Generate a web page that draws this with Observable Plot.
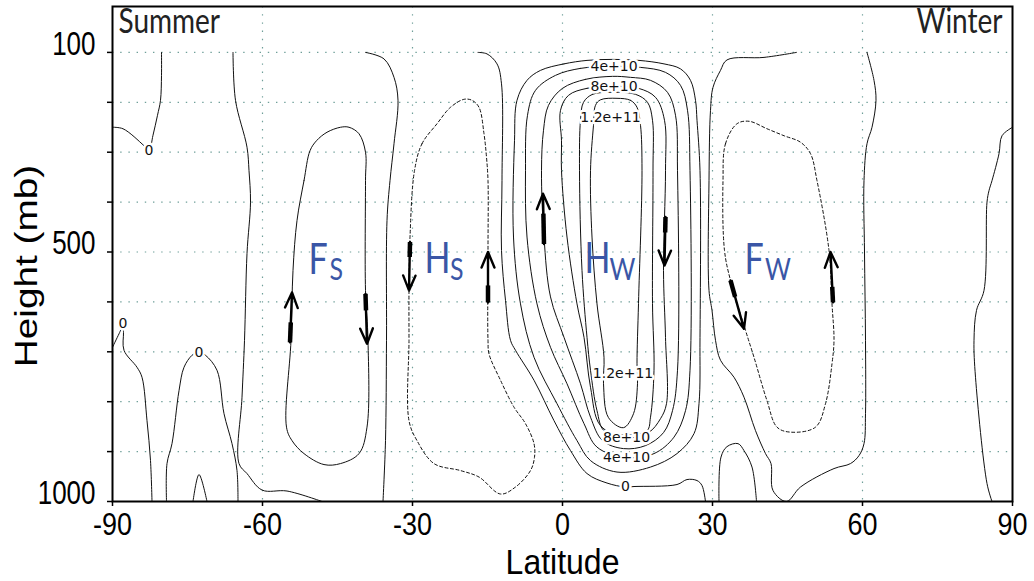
<!DOCTYPE html>
<html><head><meta charset="utf-8">
<script src="https://cdn.jsdelivr.net/npm/d3@7"></script>
<script src="https://cdn.jsdelivr.net/npm/@observablehq/plot@0.6"></script>
<style>body{margin:0;background:#fff}</style>
</head><body><div id="chart"></div>
<script>
// ---- axes ----
const latTicks = [-90, -60, -30, 0, 30, 60, 90];
const latGrid = [-60, -30, 0, 30, 60];
const pressureTicks = [100, 200, 300, 400, 500, 600, 700, 800, 900, 1000];
const pressureGrid = [100, 200, 300, 400, 500, 600, 700, 800, 900];
const pressureLabels = [100, 500, 1000];

// ---- contour lines [lat, pressure] ----
// open zero lines
const zeroA = [[-90,250],[-87.9,253],[-83.7,287],[-82.7,297],[-81.9,266],[-81,226],[-80.4,196],[-80.2,146],[-80.2,100]];
const zeroB = [[-65.9,100],[-65.4,196],[-63.1,290],[-62.7,337],[-62.4,400],[-63.1,503],[-63.6,677],[-64.1,791],[-64.7,924],[-63.1,944],[-60.1,977],[-55.1,979],[-48.1,1000]];
const zeroC = [[-39.4,100],[-35.7,113],[-33.7,150],[-32.9,196],[-33.7,283],[-34.5,357],[-35.1,437],[-35.2,677],[-35.4,878],[-35.9,1000]];
const zeroE = [[-90,691],[-88.7,664],[-87.9,648],[-87.8,661],[-87.7,697],[-85.1,731],[-84.1,751],[-83.1,838],[-82.4,918],[-82.1,1000]];
const zeroF = [[-79.2,1000],[-79.1,924],[-78.1,884],[-76.7,778],[-75.7,731],[-74.1,707],[-72.8,700],[-71.4,707],[-69.1,737],[-67.7,824],[-66.1,884],[-65.1,938],[-64.9,1000]];
const zeroG = [[-73.9,1000],[-72.7,946],[-71.1,1000]];
const zeroI = [[-16.9,100],[-15.1,103],[-13.1,123],[-12.2,163],[-12.1,357],[-12.2,497],[-11.4,597],[-10.4,677],[-9.4,697],[-5.7,757],[-1.7,838],[1.6,898],[4.9,944],[8.9,963],[12.6,971],[14.3,970],[22.9,966],[24.9,956],[26.9,958],[27.9,968],[28.6,1000]];
const zeroJ = [[46.8,100],[40.3,110],[32.9,115],[31.6,136],[30.1,170],[29.6,216],[29.3,357],[29.3,577],[29.9,617],[30.6,677],[31.6,717],[34.3,751],[36.3,791],[38.6,858],[40.6,904],[41.7,924],[42.1,978],[44.8,1000],[47.6,971],[54.3,934],[57.6,924],[59.3,908],[60.3,884],[60.6,824],[60.6,677],[60.4,500],[60.3,357],[60.9,283],[61.9,250],[62.7,196],[62.3,156],[60.9,100]];
const zeroK = [[31.3,1000],[31.7,911],[32.9,890],[35.1,884],[36.3,898],[37.9,931],[38.8,1000]];
const zeroM = [[90,250],[87.9,267],[87.3,303],[85.9,357],[85.3,377],[84.9,400],[84.3,577],[82.8,617],[82.3,677],[82.6,751],[84.9,964],[85.9,1000]];
// closed positive loops
const loopFs = [[-50.5,297],[-51.7,357],[-53.1,437],[-53.9,537],[-54.3,677],[-55.2,851],[-54.1,878],[-51.7,904],[-47.7,926],[-44.4,924],[-40.7,904],[-39.1,851],[-38.9,677],[-39.4,577],[-39.4,357],[-39.4,300],[-40.7,263],[-42.7,250],[-44.4,250],[-47.1,260],[-49.2,277]];
const hw2 = [[4.9,116],[0.3,123],[-4.4,136],[-7.1,156],[-9.1,196],[-9.6,277],[-9.8,470],[-8.4,604],[-5.7,711],[-1.1,804],[2.9,878],[5.6,918],[10.9,941],[17.6,931],[22.9,904],[26.3,864],[27.3,804],[27.5,671],[27.5,337],[26.9,236],[26.6,196],[25.6,156],[23.6,133],[20.3,123],[15.3,116],[10,114]];
const hw4 = [[9.6,128],[3.6,132],[-1.4,146],[-5.4,176],[-7,226],[-7.4,337],[-7.1,470],[-5.1,604],[-2.4,691],[0.9,764],[4.3,844],[6.9,891],[12.6,912],[18.3,904],[22.3,871],[24.6,818],[25.5,737],[25.5,337],[25,216],[23.6,166],[20.6,140],[15.6,130]];
const hw6 = [[10,148],[4.6,154],[0,172],[-2.8,206],[-3.8,256],[-4.2,337],[-3.7,470],[-2.4,590],[0.3,671],[3.6,764],[5.6,831],[8,878],[12.2,894],[16.6,888],[20.2,862],[22,818],[23,737],[23,337],[22.6,226],[21,180],[17.6,156],[13.6,150]];
const hw8 = [[10.2,168],[4.9,172],[1.2,186],[-0.4,216],[-0.2,277],[-0.2,337],[0.9,470],[2.9,604],[4.3,671],[5.6,771],[7.6,848],[12.8,872],[17.2,862],[19.6,834],[20.8,804],[20.6,671],[20.2,537],[20.6,337],[20.4,236],[18.6,190],[15.2,172]];
const hw10 = [[10,180],[6,184],[4.2,200],[3.6,236],[3.4,337],[3.9,537],[4.9,671],[5.6,737],[6.9,818],[8.3,858],[12.2,866],[16.9,858],[17.6,831],[18.3,737],[18,603],[18.1,337],[18,236],[17,200],[14.6,184]];
const hw12 = [[10.9,192],[13.6,196],[14.9,210],[15.6,246],[15.9,337],[15.2,603],[14.9,723],[15,764],[14.2,824],[12.2,852],[9.2,832],[8.2,764],[8.3,711],[6.9,604],[5.9,470],[5.6,337],[6.2,246],[6.6,206],[7.6,195]];
// closed negative loops (dashed)
const loopHs = [[-29.6,337],[-28.1,283],[-25.1,243],[-22.4,210],[-19.7,194],[-18.1,196],[-16.7,210],[-15.7,263],[-15.2,310],[-14.9,357],[-14.9,497],[-14.9,677],[-14.7,704],[-12.4,757],[-9.7,811],[-7.4,844],[-5.7,884],[-5.6,911],[-6.4,938],[-9.4,971],[-12.4,985],[-16.7,951],[-20.4,938],[-25.7,924],[-29.1,878],[-30.7,838],[-30.7,677],[-30.7,577],[-30.5,470]];
const loopFw = [[32.1,357],[32.6,283],[34.9,243],[37.3,238],[40.9,253],[44.3,267],[47.6,280],[49.6,303],[50.9,357],[53.3,497],[53.9,604],[54.3,677],[53.9,724],[52.6,804],[50.6,851],[45.6,861],[42.9,851],[40.9,798],[38.3,711],[36.6,657],[33.6,557],[32.4,497]];

const toRows = (obj) => Object.entries(obj).flatMap(([id, pts]) => pts.map(([lat, p]) => ({id, lat, p})));
const openRows = toRows({zeroA, zeroB, zeroC, zeroE, zeroF, zeroG, zeroI, zeroJ, zeroK, zeroM});
const closedRows = toRows({loopFs, hw2, hw4, hw6, hw8, hw10, hw12});
const dashedRows = toRows({loopHs, loopFw});

// ---- contour labels ----
const contourLabelText = ["0", "0", "0", "0", "4e+10", "8e+10", "1.2e+11", "1.2e+11", "8e+10", "4e+10"];
const contourLabelLat = [-82.7, -87.9, -72.7, 12.6, 10.3, 10.3, 9.6, 12.1, 12.8, 12.8];
const contourLabelP = [297, 644, 701, 970, 128, 168, 230, 744, 871, 912];
const contourLabels = contourLabelText.map((t, i) => ({t, lat: contourLabelLat[i], p: contourLabelP[i]}));

// ---- cell names ----
const cellMain = ["F", "H", "H", "F"];
const cellSub = ["S", "S", "W", "W"];
const cellMainLat = [-50.8, -27.6, 4.4, 36.4];
const cellMainP = [544, 542, 542, 545];
const cellSubLat = [-46.6, -22.5, 9.4, 40.5];
const cellSubP = [557, 556, 556, 556];
const cellsMain = cellMain.map((t, i) => ({t, lat: cellMainLat[i], p: cellMainP[i]}));
const cellsSub = cellSub.map((t, i) => ({t, lat: cellSubLat[i], p: cellSubP[i]}));

// ---- circulation arrows (tail -> head) ----
const arrowLat1 = [-54.5, -39.4, -30.5, -14.9, -3.7, 20.6, 33.6, 54.1];
const arrowP1 = [681, 584, 480, 601, 484, 430, 557, 601];
const arrowLat2 = [-54.1, -39.1, -30.7, -14.9, -3.9, 20.4, 36.3, 53.6];
const arrowP2 = [581, 684, 577, 500, 383, 527, 654, 500];
const arrows = arrowLat1.map((d, i) => ({x1: d, y1: arrowP1[i], x2: arrowLat2[i], y2: arrowP2[i]}));
const tailP2 = [641, 617, 510, 567, 423, 461, 590, 570];
const tails = arrows.map((a, i) => ({x1: a.x1, y1: a.y1, x2: a.x1 + (a.x2 - a.x1) * (tailP2[i] - a.y1) / (a.y2 - a.y1), y2: tailP2[i]}));

const seasons = [{t: "Summer", lat: -88.8, p: 62, anchor: "start"}, {t: "Winter", lat: 88, p: 61, anchor: "end"}];

const humanist = "Lato, 'Open Sans', sans-serif";
const gridStyle = {stroke: "#6f9f99", strokeWidth: 1.2, strokeDasharray: "1.4,6.8"};
const chart = Plot.plot({
  width: 1034, height: 581,
  marginLeft: 112, marginRight: 22, marginTop: 6, marginBottom: 80,
  style: {fontFamily: "'Liberation Sans', Arial, sans-serif", background: "white", color: "black"},
  x: {domain: [-90, 90], label: null},
  y: {domain: [8, 1000], reverse: true, label: null},
  marks: [
    Plot.ruleY(pressureGrid, gridStyle),
    Plot.ruleX(latGrid, gridStyle),
    Plot.line(openRows, {x: "lat", y: "p", z: "id", stroke: "#111", strokeWidth: 1, curve: "catmull-rom", clip: true}),
    Plot.line(closedRows, {x: "lat", y: "p", z: "id", stroke: "#111", strokeWidth: 1, curve: "catmull-rom-closed", clip: true}),
    Plot.line(dashedRows, {x: "lat", y: "p", z: "id", stroke: "#111", strokeWidth: 1, strokeDasharray: "3,2.5", curve: "catmull-rom-closed", clip: true}),
    Plot.text(contourLabels, {x: "lat", y: "p", text: "t", fontSize: 14, fontFamily: "'DejaVu Sans', sans-serif", fill: "#111", stroke: "white", strokeWidth: 5, className: "clabels"}),
    Plot.link(tails, {x1: "x1", y1: "y1", x2: "x2", y2: "y2", stroke: "black", strokeWidth: 4.5}),
    Plot.arrow(arrows, {x1: "x1", y1: "y1", x2: "x2", y2: "y2", stroke: "black", strokeWidth: 2.4, headLength: 11, headAngle: 45}),
    Plot.text(cellsMain, {x: "lat", y: "p", text: "t", fontSize: 34, fontFamily: humanist, fill: "#3a56a6", textAnchor: "start", lineAnchor: "bottom"}),
    Plot.text(cellsSub, {x: "lat", y: "p", text: "t", fontSize: 25, fontFamily: humanist, fill: "#3a56a6", textAnchor: "start", lineAnchor: "bottom"}),
    Plot.text(seasons, {x: "lat", y: "p", text: "t", textAnchor: "start", fontSize: 28, fontFamily: humanist, fill: "#222", lineAnchor: "bottom", filter: d => d.anchor === "start"}),
    Plot.text(seasons, {x: "lat", y: "p", text: "t", textAnchor: "end", fontSize: 28, fontFamily: humanist, fill: "#222", lineAnchor: "bottom", filter: d => d.anchor === "end"}),
    Plot.axisX({ticks: latTicks, tickSize: 5, tickPadding: 6, fontSize: 27, strokeWidth: 1.5, label: null, tickFormat: d => String(d)}),
    Plot.axisY({ticks: pressureTicks, tickSize: 5, strokeWidth: 1.5, label: null, tickFormat: () => ""}),
    Plot.text(pressureLabels, {y: d => d, text: d => String(d), frameAnchor: "left", textAnchor: "end", dx: -17, dy: -8, fontSize: 26}),
    Plot.text(["Latitude"], {frameAnchor: "bottom", lineAnchor: "bottom", dy: 72, fontSize: 32, className: "latlab"}),
    Plot.text(["Height (mb)"], {frameAnchor: "left", textAnchor: "middle", rotate: -90, dx: -85, dy: 12, fontSize: 31, className: "ylab"}),
    Plot.frame({stroke: "black", strokeWidth: 2})
  ]
});

// the reference lettering is drawn tall (vertically stretched)
chart.querySelectorAll("text").forEach(t => {
  const g = t.closest("g");
  if (g && g.classList.contains("clabels")) return;
  const rotated = g && g.classList.contains("ylab");
  const k = g && g.classList.contains("latlab") ? 1.1 : (g && /x-axis/.test(g.getAttribute("aria-label") || "")) ? 1.15 : 1.25;
  const s = rotated ? `scale(${k},1)` : `scale(1,${k})`;
  const tr = t.getAttribute("transform");
  if (tr) {
    t.setAttribute("transform", tr + " " + s);
  } else {
    const x = +(t.getAttribute("x") || 0), y = +(t.getAttribute("y") || 0);
    t.setAttribute("transform", `translate(${x},${y}) ${s} translate(${-x},${-y})`);
  }
});
document.getElementById("chart").append(chart);
</script>
</body></html>
